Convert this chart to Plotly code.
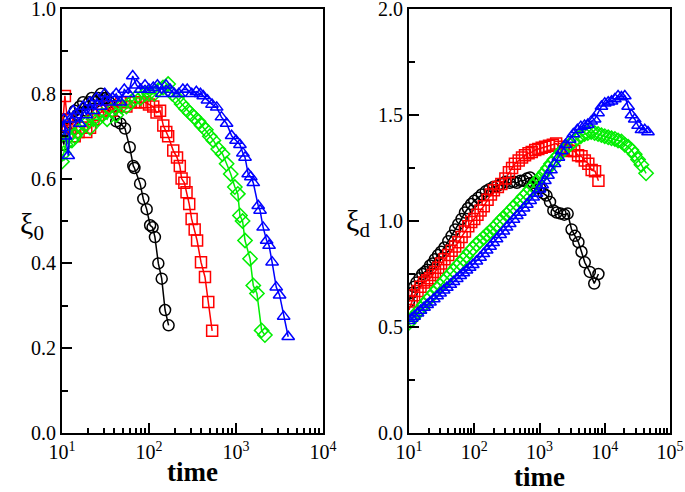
import plotly.graph_objects as go

# ---------------- Left panel (xi_0) ----------------
left_black_t = [10, 10.5, 11, 12, 13, 14, 15, 16, 17.5, 19, 20.5, 22, 24, 26, 28, 30, 32, 35, 38, 42,
                47, 53, 60, 66, 68, 79, 86, 94, 103, 110, 117, 128, 140, 153, 168]
left_black_v = [0.70, 0.68, 0.72, 0.74, 0.73, 0.76, 0.75, 0.77, 0.78, 0.76, 0.78, 0.79, 0.78, 0.79, 0.80, 0.79, 0.79, 0.78, 0.77, 0.735,
                0.73, 0.718, 0.674, 0.630, 0.625, 0.588, 0.552, 0.528, 0.490, 0.485, 0.462, 0.400, 0.364, 0.290, 0.254]

left_red_t = [10, 10.8, 11.5, 12.5, 14, 15.5, 17, 19, 21, 23, 26, 29, 33, 37, 42, 48, 55, 62, 70, 80,
              90, 100, 112, 122, 134, 146, 158, 166, 190, 210, 226, 237, 255, 270, 290, 309, 335, 357, 396, 440,
              480, 532]
left_red_v = [0.71, 0.795, 0.74, 0.72, 0.70, 0.71, 0.72, 0.71, 0.72, 0.74, 0.75, 0.76, 0.77, 0.76, 0.77, 0.78, 0.77, 0.78, 0.78, 0.78,
              0.78, 0.775, 0.77, 0.756, 0.76, 0.725, 0.71, 0.70, 0.666, 0.65, 0.63, 0.60, 0.59, 0.568, 0.54, 0.505, 0.48, 0.454, 0.403, 0.368,
              0.309, 0.241]

left_green_t = [10, 10.5, 11, 12, 13, 14, 15, 17, 19, 21, 23, 26, 29, 33, 37, 42, 48, 55, 62, 70,
                80, 90, 100, 115, 130, 145, 166, 185, 210, 237, 265, 295, 330, 370, 403, 450, 500, 550, 625, 700,
                780, 870, 970, 1050, 1110, 1190, 1270, 1450, 1580, 1740, 1970, 2150]
left_green_v = [0.64, 0.66, 0.68, 0.70, 0.69, 0.70, 0.71, 0.72, 0.73, 0.72, 0.74, 0.74, 0.75, 0.74, 0.76, 0.75, 0.77, 0.77, 0.78, 0.79,
                0.79, 0.80, 0.80, 0.80, 0.81, 0.815, 0.823, 0.80, 0.79, 0.776, 0.765, 0.755, 0.745, 0.735, 0.725, 0.715, 0.70, 0.69, 0.67, 0.658,
                0.635, 0.611, 0.58, 0.564, 0.513, 0.50, 0.454, 0.411, 0.348, 0.329, 0.242, 0.231]

left_blue_t = [10, 10.5, 11, 11.8, 12.5, 13.5, 14.5, 16, 17.5, 19, 21, 23, 25, 28, 31, 34, 38, 42, 47, 52,
               58, 65, 72, 80, 90, 100, 112, 125, 140, 157, 175, 195, 220, 245, 275, 310, 350, 390, 420, 470,
               530, 600, 680, 780, 890, 1000, 1110, 1200, 1270, 1380, 1480, 1580, 1800, 1890, 2050, 2250, 2400, 2600, 2900, 3170,
               3530, 3980]
left_blue_v = [0.72, 0.74, 0.70, 0.654, 0.74, 0.76, 0.75, 0.73, 0.77, 0.75, 0.78, 0.76, 0.79, 0.77, 0.80, 0.78, 0.79, 0.80, 0.78, 0.81,
               0.80, 0.842, 0.82, 0.81, 0.82, 0.81, 0.815, 0.82, 0.80, 0.82, 0.81, 0.80, 0.80, 0.81, 0.81, 0.80, 0.805, 0.80, 0.795, 0.785,
               0.775, 0.768, 0.745, 0.73, 0.701, 0.69, 0.68, 0.66, 0.65, 0.611, 0.604, 0.59, 0.536, 0.525, 0.485, 0.454, 0.442, 0.403, 0.344, 0.325,
               0.275, 0.227]

# ---------------- Right panel (xi_d) ----------------
right_black_t = [10, 11, 12, 13, 14.5, 16, 17.5, 19, 21, 23, 25, 28, 31, 35, 40, 45, 51, 57, 64, 72,
                 80, 90, 100, 115, 130, 150, 170, 195, 225, 260, 300, 350, 400, 450, 510, 570, 640, 715, 800, 900,
                 1020, 1150, 1280, 1450, 1630, 1830, 2100, 2400, 2700, 3100, 3500, 3950, 4400, 4940, 5900, 6900, 8000]
right_black_v = [0.62, 0.66, 0.69, 0.71, 0.73, 0.75, 0.76, 0.77, 0.79, 0.80, 0.82, 0.84, 0.855, 0.875, 0.905, 0.93, 0.96, 0.985, 1.01, 1.04,
                 1.06, 1.08, 1.095, 1.11, 1.125, 1.14, 1.15, 1.16, 1.165, 1.175, 1.185, 1.18, 1.185, 1.18, 1.19, 1.19, 1.20, 1.205, 1.18, 1.16,
                 1.155, 1.13, 1.12, 1.09, 1.05, 1.04, 1.035, 1.03, 1.035, 0.96, 0.93, 0.90, 0.855, 0.805, 0.76, 0.705, 0.75]

right_red_t = [10, 11, 12, 13.5, 15, 17, 19, 21, 23, 25, 28, 31, 35, 40, 45, 51, 57, 64, 72, 81,
               90, 100, 112, 125, 140, 160, 180, 200, 230, 260, 300, 340, 380, 420, 480, 540, 600, 680, 760, 860,
               960, 1080, 1220, 1400, 1600, 1800, 2050, 2350, 2650, 3000, 3400, 3900, 4400, 4950, 5600, 6300, 7100, 8000]
right_red_v = [0.58, 0.62, 0.65, 0.67, 0.69, 0.71, 0.72, 0.73, 0.745, 0.76, 0.78, 0.80, 0.82, 0.84, 0.86, 0.88, 0.90, 0.925, 0.95, 0.975,
               0.995, 1.01, 1.03, 1.05, 1.07, 1.10, 1.125, 1.145, 1.16, 1.175, 1.20, 1.23, 1.25, 1.27, 1.285, 1.30, 1.31, 1.32, 1.325, 1.335,
               1.34, 1.345, 1.35, 1.355, 1.36, 1.365, 1.35, 1.34, 1.335, 1.33, 1.33, 1.31, 1.305, 1.285, 1.27, 1.24, 1.235, 1.19]

right_green_t = [10, 11, 12, 13.5, 15, 17, 19, 21, 24, 27, 30, 34, 38, 43, 48, 54, 61, 68, 76, 85,
                 95, 108, 123, 138, 155, 175, 195, 220, 250, 280, 313, 350, 400, 450, 500, 570, 640, 720, 800, 900,
                 1000, 1100, 1210, 1350, 1500, 1700, 1950, 2200, 2500, 2900, 3300, 3800, 4300, 4900, 5500, 6200, 7000, 7900, 8900, 10000,
                 11300, 12700, 14300, 16000, 18000, 20300, 22800, 25600, 28800, 32400, 36500, 43000]
right_green_v = [0.52, 0.535, 0.55, 0.57, 0.585, 0.605, 0.625, 0.64, 0.66, 0.68, 0.695, 0.715, 0.73, 0.75, 0.765, 0.785, 0.80, 0.82, 0.835, 0.855,
                 0.87, 0.89, 0.905, 0.92, 0.935, 0.95, 0.965, 0.98, 1.00, 1.015, 1.03, 1.045, 1.065, 1.08, 1.095, 1.115, 1.13, 1.15, 1.165, 1.185,
                 1.20, 1.215, 1.23, 1.25, 1.27, 1.29, 1.31, 1.33, 1.345, 1.36, 1.375, 1.39, 1.40, 1.41, 1.415, 1.42, 1.415, 1.41, 1.405, 1.40,
                 1.395, 1.39, 1.387, 1.38, 1.375, 1.36, 1.35, 1.335, 1.315, 1.29, 1.265, 1.225]

right_blue_t = [10, 11, 12, 13.5, 15, 17, 19, 21, 24, 27, 30, 34, 38, 43, 48, 54, 61, 68, 76, 85,
                95, 108, 123, 138, 155, 175, 195, 220, 250, 280, 313, 350, 400, 450, 500, 570, 640, 720, 800, 900,
                1000, 1100, 1210, 1350, 1500, 1700, 1950, 2200, 2500, 2900, 3300, 3800, 4300, 4900, 5500, 6200, 7000, 7900, 8900, 10000,
                11300, 12700, 14300, 16000, 18000, 20300, 22800, 25600, 28800, 32400, 36500, 41000, 46000]
right_blue_v = [0.53, 0.54, 0.55, 0.565, 0.578, 0.592, 0.605, 0.617, 0.632, 0.646, 0.659, 0.673, 0.686, 0.70, 0.714, 0.728, 0.742, 0.755, 0.768, 0.781,
                0.794, 0.81, 0.828, 0.845, 0.862, 0.88, 0.897, 0.915, 0.935, 0.952, 0.97, 0.987, 1.007, 1.025, 1.04, 1.06, 1.078, 1.096, 1.112, 1.13,
                1.15, 1.17, 1.19, 1.215, 1.24, 1.27, 1.30, 1.33, 1.36, 1.385, 1.41, 1.43, 1.445, 1.45, 1.455, 1.47, 1.48, 1.51, 1.54, 1.555,
                1.56, 1.565, 1.575, 1.59, 1.585, 1.59, 1.54, 1.50, 1.48, 1.45, 1.43, 1.43, 1.42]

left_yticks = [0.0, 0.2, 0.4, 0.6, 0.8, 1.0]
left_yticklabels = ["0.0", "0.2", "0.4", "0.6", "0.8", "1.0"]
right_yticks = [0.0, 0.5, 1.0, 1.5, 2.0]
right_yticklabels = ["0.0", "0.5", "1.0", "1.5", "2.0"]
left_xticks = [10, 100, 1000, 10000]
left_xticklabels = ["10<sup>1</sup>", "10<sup>2</sup>", "10<sup>3</sup>", "10<sup>4</sup>"]
right_xticks = [10, 100, 1000, 10000, 100000]
right_xticklabels = ["10<sup>1</sup>", "10<sup>2</sup>", "10<sup>3</sup>", "10<sup>4</sup>", "10<sup>5</sup>"]

series = [
    (left_black_t, left_black_v, "#000000", "circle-open", "x", "y"),
    (left_red_t, left_red_v, "#ff0000", "square-open", "x", "y"),
    (left_green_t, left_green_v, "#00ee00", "diamond-open", "x", "y"),
    (left_blue_t, left_blue_v, "#0000ff", "triangle-up-open", "x", "y"),
    (right_black_t, right_black_v, "#000000", "circle-open", "x2", "y2"),
    (right_red_t, right_red_v, "#ff0000", "square-open", "x2", "y2"),
    (right_green_t, right_green_v, "#00ee00", "diamond-open", "x2", "y2"),
    (right_blue_t, right_blue_v, "#0000ff", "triangle-up-open", "x2", "y2"),
]

fig = go.Figure()
for t, v, col, sym, xa, ya in series:
    assert len(t) == len(v)
    fig.add_trace(go.Scatter(
        x=t, y=v, xaxis=xa, yaxis=ya, mode="lines+markers",
        line=dict(color=col, width=1.5),
        marker=dict(symbol=sym, size=11, color=col, line=dict(color=col, width=1.5)),
        showlegend=False,
    ))

def minor_vals(lo, hi):
    out = []
    d = lo
    while d < hi:
        for k in range(2, 10):
            out.append(k * d)
        d *= 10
    return out

tickfont = dict(family="Liberation Serif", size=20, color="black")
common_x = dict(type="log", showline=True, linecolor="black", linewidth=2, mirror=True,
                ticks="inside", ticklen=10, tickwidth=1.5, tickcolor="black",
                showgrid=False, zeroline=False, tickfont=tickfont, automargin=False,
                ticklabeloverflow="allow",
                title=dict(text="<b>time</b>", font=dict(family="Liberation Serif", size=27, color="black"), standoff=0))
common_y = dict(showline=True, linecolor="black", linewidth=2, mirror=True,
                ticks="inside", ticklen=10, tickwidth=1.5, tickcolor="black",
                showgrid=False, zeroline=False, tickfont=tickfont, automargin=False,
                ticklabeloverflow="allow")

fig.update_layout(
    width=685, height=492,
    margin=dict(l=0, r=0, t=0, b=0),
    paper_bgcolor="white", plot_bgcolor="white",
    xaxis=dict(domain=[62/685, 323/685], range=[1, 4], tickvals=left_xticks, ticktext=left_xticklabels,
               minor=dict(tickvals=minor_vals(10, 10000), ticks="inside", ticklen=5, tickwidth=1.5, tickcolor="black"),
               anchor="y", **common_x),
    yaxis=dict(domain=[1-433/492, 1-9/492], range=[0, 1], tickvals=left_yticks, ticktext=left_yticklabels,
               minor=dict(dtick=0.1, ticks="inside", ticklen=6, tickwidth=1.5, tickcolor="black"),
               anchor="x", **common_y),
    xaxis2=dict(domain=[409/685, 670/685], range=[1, 5], tickvals=right_xticks, ticktext=right_xticklabels,
                minor=dict(tickvals=minor_vals(10, 100000), ticks="inside", ticklen=5, tickwidth=1.5, tickcolor="black"),
                anchor="y2", **common_x),
    yaxis2=dict(domain=[1-433/492, 1-9/492], range=[0, 2], tickvals=right_yticks, ticktext=right_yticklabels,
                minor=dict(dtick=0.25, ticks="inside", ticklen=6, tickwidth=1.5, tickcolor="black"),
                anchor="x2", **common_y),
)

fig.add_annotation(text="ξ<sub>0</sub>", x=18/685, y=1-226/492, xref="paper", yref="paper",
                   showarrow=False, font=dict(family="Liberation Serif", size=30, color="black"))
fig.add_annotation(text="ξ<sub>d</sub>", x=358/685, y=1-223/492, xref="paper", yref="paper",
                   showarrow=False, font=dict(family="Liberation Serif", size=30, color="black"))

fig.write_html("out.html", config={"displayModeBar": False},
               post_script="document.body.style.margin='0';document.body.style.overflow='hidden';")
